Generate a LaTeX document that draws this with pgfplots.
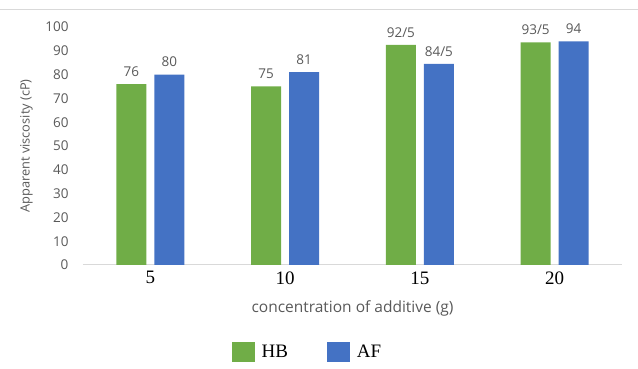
\documentclass[border=0pt]{standalone}
\usepackage{pgfplots}
\usepackage{pgfplotstable}
\pgfplotsset{compat=1.18}
\usepackage{fontspec}
\setmainfont{Liberation Serif}
\newfontfamily\labelfont{Open Sans}

\definecolor{hbgreen}{HTML}{70AD47}
\definecolor{afblue}{HTML}{4472C4}
\definecolor{txtgray}{HTML}{595959}
\definecolor{linegray}{HTML}{D9D9D9}

% viscosity by additive amount (categories at 0..3)
\pgfplotstableread{
x y label
0 76 76
1 75 75
2 92.5 92/5
3 93.5 93/5
}\hbdata
\pgfplotstableread{
x y label
0 80 80
1 81 81
2 84.5 84/5
3 94 94
}\afdata

\begin{document}
\begin{tikzpicture}[x=1pt,y=1pt]
\path[use as bounding box] (0,0) rectangle (638,369);
\draw[linegray, line width=0.8pt] (0,360) -- (638,360);
\begin{axis}[
  at={(83pt,104pt)}, anchor=south west,
  scale only axis, width=539pt, height=238pt,
  xmin=-0.5, xmax=3.5, ymin=0, ymax=100,
  ybar=8pt, bar width=30pt,
  xtick={0,1,2,3}, xticklabels={5,10,15,20},
  ytick={0,10,...,100},
  /pgf/number format/assume math mode=true,
  axis x line*=bottom, axis y line*=left,
  axis line style={-},
  x axis line style={draw=linegray, line width=1pt},
  y axis line style={draw=none},
  major tick length=0pt,
  xticklabel style={font=\fontsize{19}{19}\selectfont, text=black, yshift=-3pt},
  yticklabel style={font=\labelfont\fontsize{13.5}{13.5}\selectfont, text=txtgray, xshift=-11pt},
  ylabel={Apparent viscosity (cP)},
  ylabel style={font=\labelfont\fontsize{12.8}{12.8}\selectfont, text=txtgray,
    at={(axis description cs:-0.105,0.5)}, anchor=center, rotate=0},
  xlabel={concentration of additive (g)},
  xlabel style={font=\labelfont\fontsize{15.5}{15.5}\selectfont, text=txtgray, yshift=-9pt},
  nodes near coords,
  point meta=explicit symbolic,
  every node near coord/.append style={font=\labelfont\fontsize{13.5}{13.5}\selectfont, text=txtgray, anchor=south, yshift=4pt},
  legend style={at={(0.421,-0.366)}, anchor=center, draw=none, fill=none,
    font=\fontsize{19}{19}\selectfont, legend columns=2,
    /tikz/every even column/.append style={column sep=32pt},
    nodes={inner xsep=7pt}},
  legend cell align=left,
]
\addplot[fill=hbgreen, draw=none,
  legend image code/.code={\fill[hbgreen] (0pt,-10pt) rectangle (23pt,10pt);}]
  table[x=x, y=y, meta=label] {\hbdata};
\addplot[fill=afblue, draw=none,
  legend image code/.code={\fill[afblue] (0pt,-10pt) rectangle (23pt,10pt);}]
  table[x=x, y=y, meta=label] {\afdata};
\legend{HB, AF}
\end{axis}
\end{tikzpicture}
\end{document}
